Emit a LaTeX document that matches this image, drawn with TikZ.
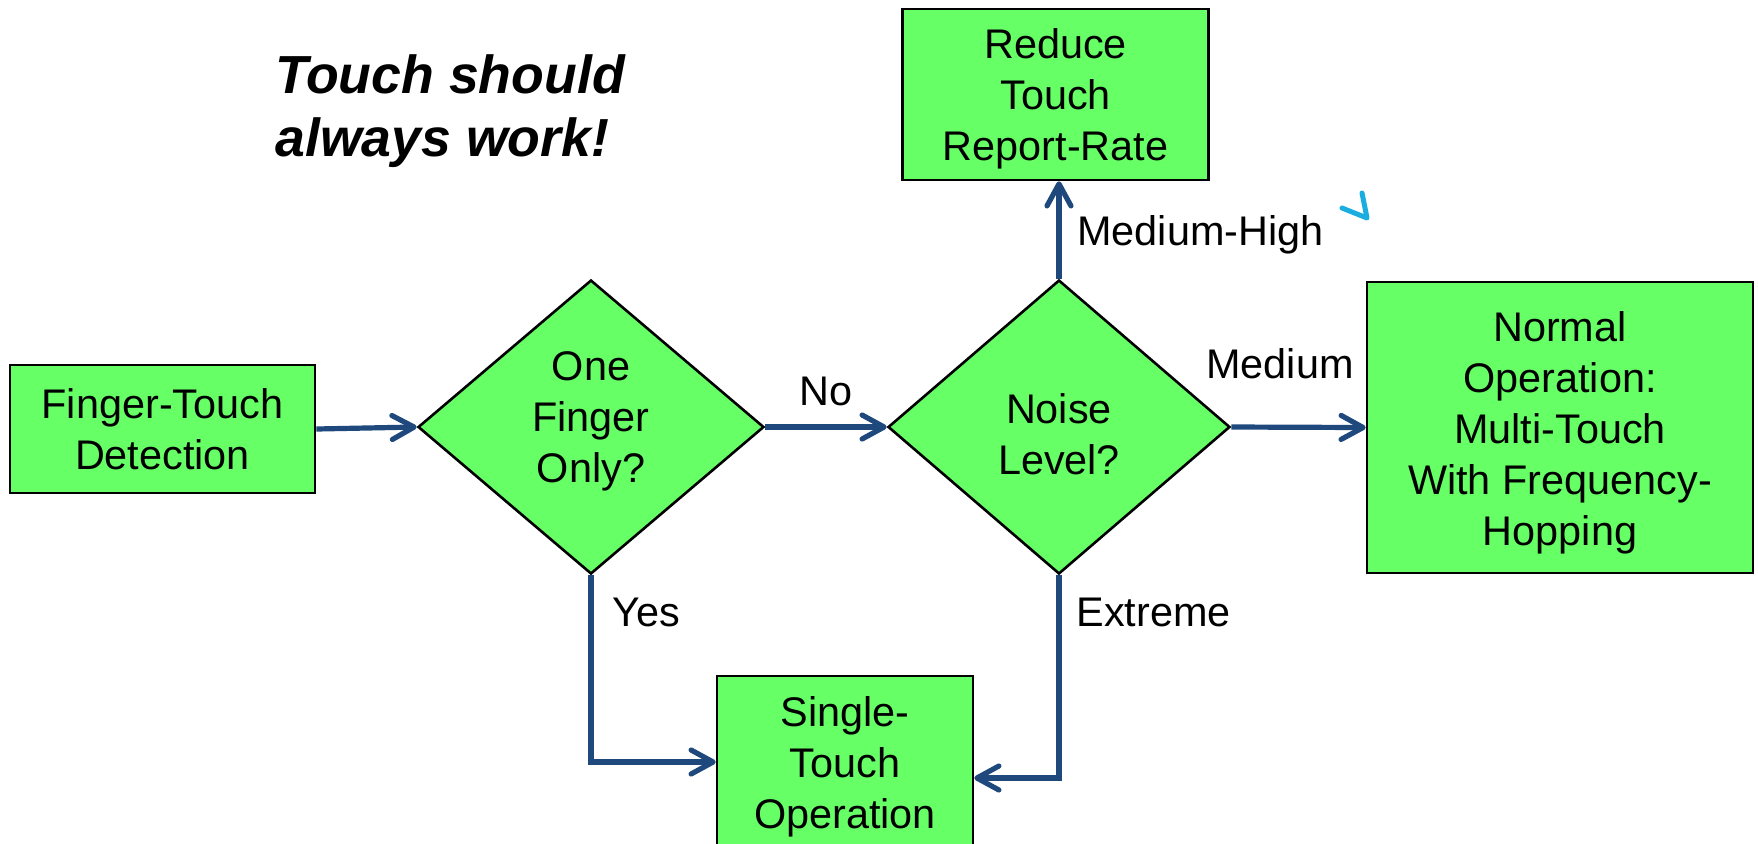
\documentclass[tikz,border=0pt]{standalone}
\usepackage{fontspec}
\setmainfont{Liberation Sans}
\usetikzlibrary{shapes.geometric,arrows.meta}
\definecolor{boxgreen}{RGB}{102,255,102}
\definecolor{flowblue}{RGB}{31,73,125}
\definecolor{markcyan}{RGB}{26,173,224}
\tikzset{
  box/.style={draw=black, line width=1.3pt, fill=boxgreen, align=center, inner sep=2pt, font=\fontsize{20.7}{25.5}\selectfont},
  dia/.style={diamond, draw=black, line width=1.3pt, fill=boxgreen, align=center, inner sep=0pt, aspect=1.17, font=\fontsize{20.7}{25.5}\selectfont},
  flow/.style={draw=flowblue, line width=2.6pt, -{Straight Barb[length=11pt,width=12pt,round]}},
  lbl/.style={inner sep=0pt, font=\fontsize{20.7}{25.5}\selectfont},
}
\begin{document}
\begin{tikzpicture}[x=0.5pt,y=-0.5pt]
\useasboundingbox (0,0) rectangle (1758,843);
\clip (0,0) rectangle (1758,843);
\node[inner sep=0pt, align=left, anchor=west, font=\fontsize{26.8}{31.4}\selectfont\bfseries\itshape] (title) at (275,111) {Touch should\\always work!};
\node[box, minimum width=152.5pt, minimum height=64pt] (ft) at (162.5,429) {Finger-Touch\\Detection};
\node[dia, minimum width=173pt, minimum height=147pt] (d1) at (591,427) {One\\Finger\\Only?\rule[-10pt]{0pt}{0pt}};
\node[dia, minimum width=171pt, minimum height=147pt] (d2) at (1059,427) {\rule{0pt}{21.8pt}Noise\\Level?};
\node[box, minimum width=153pt, minimum height=85.5pt] (rr) at (1055.5,94.5) {\rule{0pt}{19.6pt}Reduce\\Touch\\Report-Rate};
\node[box, minimum width=193pt, minimum height=145.5pt] (nm) at (1560,427.5) {\rule{0pt}{20.7pt}Normal\\Operation:\\Multi-Touch\\With Frequency-\\Hopping};
\node[box, minimum width=128pt, minimum height=86pt] (st) at (845,762) {\rule{0pt}{19.8pt}Single-\\Touch\\Operation};
\node[lbl, anchor=base] (lno) at (826,405) {No};
\node[lbl, anchor=base] (lmed) at (1280,378) {Medium};
\node[lbl, anchor=base west] (lmh) at (1077,245) {Medium-High};
\node[lbl, anchor=base west] (lyes) at (612,626) {Yes};
\node[lbl, anchor=base west] (lext) at (1076,626) {Extreme};
\draw[flow] (ft.east) -- (d1.west);
\draw[flow] (d1.east) -- (d2.west);
\draw[flow] (d2.east) -- (nm.west);
\draw[flow] (d2.north) -- (d2.north |- rr.south);
\draw[flow] (d1.south) |- (st.west);
\draw[flow] (d2.south) |- ([yshift=-8pt]st.east);
\draw[markcyan, line width=2.5pt, line cap=round, line join=round] (1342,208) -- (1367,218) -- (1362,193);
\end{tikzpicture}
\end{document}
